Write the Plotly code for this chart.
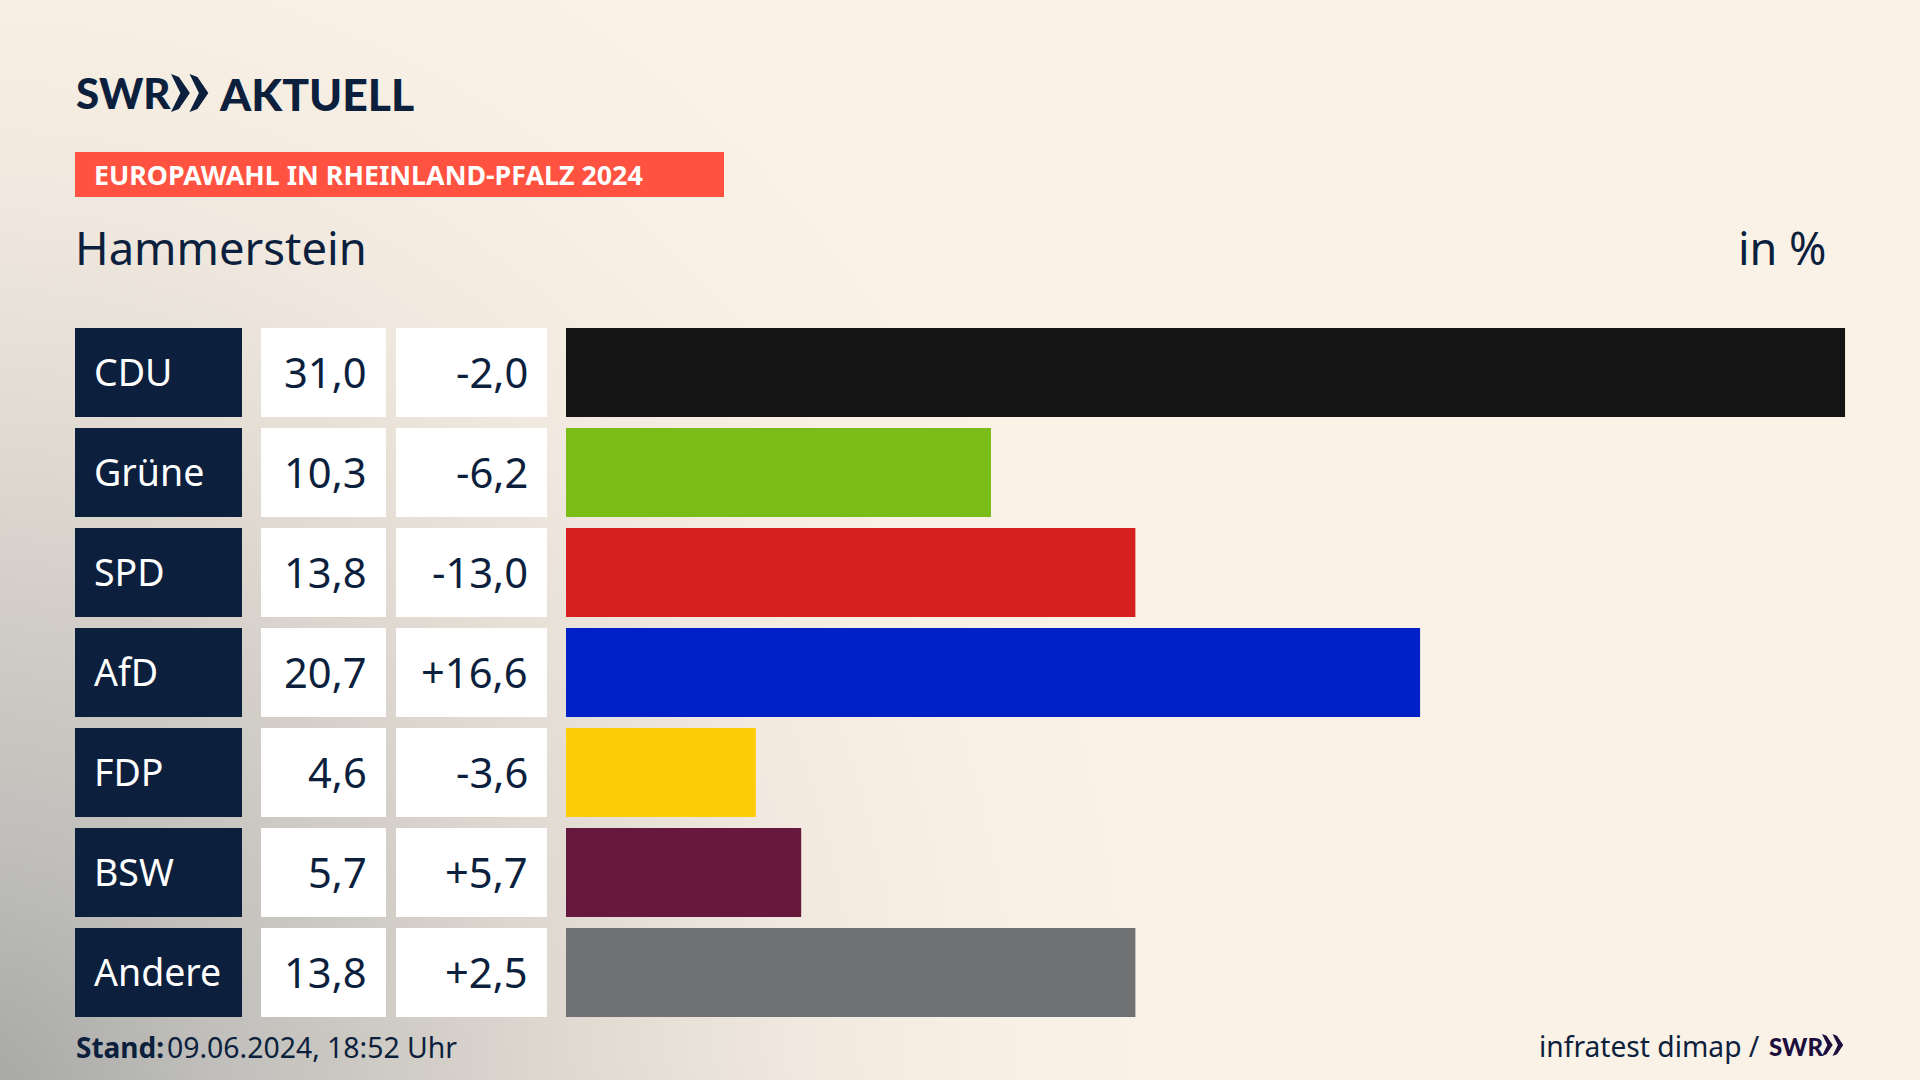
import base64
import plotly.graph_objects as go

parties = ["CDU", "Grüne", "SPD", "AfD", "FDP", "BSW", "Andere"]
shares = [31.0, 10.3, 13.8, 20.7, 4.6, 5.7, 13.8]
share_labels = ["31,0", "10,3", "13,8", "20,7", "4,6", "5,7", "13,8"]
delta_labels = ["-2,0", "-6,2", "-13,0", "+16,6", "-3,6", "+5,7", "+2,5"]
bar_colors = ["#141414", "#7abd19", "#d61f1f", "#0220c8", "#ffcc08", "#66193d", "#707173"]

NAVY = "#0c1f3d"
CREAM = "#fbf2e7"
FONT = "Noto Sans"
LOGO = "Lato"
W, H = 1920, 1080
X_MAX = 32.0
PX_PER_UNIT = 41.26
BAR_LEFT = 566


def px(x):
    return x / W


def py(y):
    return 1 - y / H


bg_svg = f'''<svg xmlns="http://www.w3.org/2000/svg" width="{W}" height="{H}" viewBox="0 0 {W} {H}">
<defs>
<radialGradient id="g" gradientUnits="userSpaceOnUse" cx="0" cy="0" r="1" gradientTransform="translate(-20 1100) scale(1180 1300)">
<stop offset="0" stop-color="#a6a6a5"/>
<stop offset="0.2" stop-color="#c0bfbb"/>
<stop offset="0.35" stop-color="#cfcbc5"/>
<stop offset="0.5" stop-color="#dfd9d1"/>
<stop offset="0.7" stop-color="#f1e9df"/>
<stop offset="0.88" stop-color="#f9f0e5"/>
<stop offset="1" stop-color="{CREAM}"/>
</radialGradient>
</defs>
<rect width="{W}" height="{H}" fill="{CREAM}"/>
<rect width="{W}" height="{H}" fill="url(#g)"/>
</svg>'''
bg_uri = "data:image/svg+xml;base64," + base64.b64encode(bg_svg.encode()).decode()

fig = go.Figure(
    go.Bar(
        x=shares,
        y=parties,
        orientation="h",
        width=0.89,
        marker=dict(color=bar_colors, line_width=0),
        hoverinfo="skip",
    )
)

shapes = []
annotations = []


def text(x, y, s, size, color=NAVY, anchor="left", weight=400, yref="paper", family=FONT, yshift=0):
    annotations.append(
        dict(
            x=px(x),
            y=py(y) if yref == "paper" else y,
            xref="paper",
            yref=yref,
            text=s,
            showarrow=False,
            xanchor=anchor,
            yanchor="middle",
            yshift=yshift,
            borderpad=0,
            font=dict(family=family, size=size, color=color, weight=weight),
        )
    )


def chevrons(x0, x1, top, bottom, color):
    mid = (top + bottom) / 2
    h = bottom - top
    step = (x1 - x0) / 2
    w = step * 1.02
    for i in range(2):
        a = x0 + i * step
        path = (
            f"M {px(a)} {py(top)} L {px(a + 0.42 * w)} {py(top + 0.08 * h)} "
            f"L {px(a + w)} {py(mid)} L {px(a + 0.42 * w)} {py(bottom - 0.08 * h)} "
            f"L {px(a)} {py(bottom)} L {px(a + 0.5 * w)} {py(mid)} Z"
        )
        shapes.append(dict(type="path", xref="paper", yref="paper", path=path, fillcolor=color, line_width=0, layer="above"))


# table cells behind each row
for i, party in enumerate(parties):
    for x0, x1, col in [(75, 242, NAVY), (261, 386, "#ffffff"), (396, 547, "#ffffff")]:
        shapes.append(
            dict(type="rect", xref="paper", yref="y", x0=px(x0), x1=px(x1), y0=i - 0.445, y1=i + 0.445,
                 fillcolor=col, line_width=0, layer="below")
        )
    text(92.5, i, party, 37.5, color="#ffffff", yref="y", yshift=1)
    text(367.5, i, share_labels[i], 41.7, anchor="right", yref="y", yshift=1)
    text(529, i, delta_labels[i], 41.7, anchor="right", yref="y", yshift=1)

# header
text(75, 93, "SWR", 42, weight=900, family=LOGO)
chevrons(171, 208, 74, 112, NAVY)
text(218, 93, "AKTUELL", 44.5, weight=900, family=LOGO)
shapes.append(dict(type="rect", xref="paper", yref="paper", x0=px(75), x1=px(724), y0=py(197), y1=py(152),
                   fillcolor="#ff5240", line_width=0, layer="below"))
text(93, 175, "EUROPAWAHL IN RHEINLAND-PFALZ 2024", 26.8, color="#ffffff", weight=700)
text(73.5, 247, "Hammerstein", 45.4)
text(1828, 247, "in %", 45, anchor="right")

# footer
text(75, 1047, "Stand:", 28, weight=700)
text(166, 1047, "09.06.2024, 18:52 Uhr", 28.4)
text(1761, 1046, "infratest dimap /", 28.2, anchor="right")
text(1768, 1046, "SWR", 24, color="#1d0f3d", weight=900, family=LOGO)
chevrons(1822, 1843, 1034, 1056, "#1d0f3d")

fig.update_layout(
    width=W,
    height=H,
    margin=dict(l=0, r=0, t=0, b=0),
    paper_bgcolor=CREAM,
    plot_bgcolor="rgba(0,0,0,0)",
    showlegend=False,
    xaxis=dict(domain=[px(BAR_LEFT), px(BAR_LEFT + X_MAX * PX_PER_UNIT)], range=[0, X_MAX], visible=False, fixedrange=True),
    yaxis=dict(domain=[py(1022.5), py(322.5)], range=[6.5, -0.5], type="category", categoryorder="array",
               categoryarray=parties, visible=False, fixedrange=True),
    shapes=shapes,
    annotations=annotations,
    images=[dict(source=bg_uri, xref="paper", yref="paper", x=0, y=1, sizex=1, sizey=1,
                 xanchor="left", yanchor="top", sizing="stretch", layer="below")],
)

fig.write_html(
    "out.html",
    config={"displayModeBar": False},
    post_script="document.body.style.margin='0';document.body.style.overflow='hidden';",
)
